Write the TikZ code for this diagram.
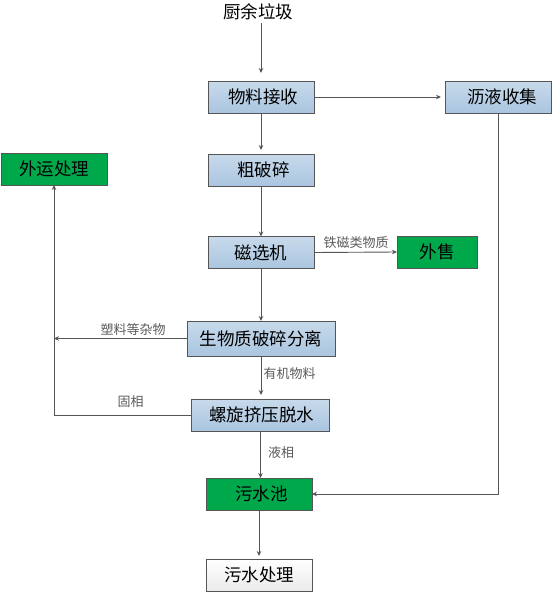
\documentclass[tikz,border=0pt]{standalone}
\usepackage{fontspec}
\setmainfont{Noto Sans CJK SC}
\usetikzlibrary{arrows.meta}
\definecolor{boxblueA}{RGB}{200,218,235}
\definecolor{boxblueB}{RGB}{170,197,224}
\definecolor{boxgreen}{RGB}{0,168,76}
\definecolor{linegray}{RGB}{85,85,85}
\definecolor{labelgray}{RGB}{90,90,90}
\tikzset{
  every node/.style={inner sep=0pt,outer sep=0pt},
  flowbox/.style={draw=linegray,line width=0.9pt,minimum width=106pt,minimum height=32pt,font=\fontsize{17.5}{17.5}\selectfont,text=black,anchor=center},
  bluebox/.style={flowbox,top color=boxblueA,bottom color=boxblueB},
  greenbox/.style={flowbox,fill=boxgreen},
  whitebox/.style={flowbox,top color=white,bottom color=white!92!black},
  conn/.style={draw=linegray,line width=0.9pt},
  thickconn/.style={draw=linegray,line width=1pt},
  arr/.style={conn,-{Stealth[length=5pt,width=4.5pt]}},
  thickarr/.style={thickconn,-{Stealth[length=5pt,width=4.5pt]}},
  lab/.style={font=\fontsize{13}{13}\selectfont,text=labelgray},
}
\begin{document}
\begin{tikzpicture}[x=1pt,y=-1pt]
\useasboundingbox (0,0) rectangle (554,594);
\node[font=\fontsize{17.5}{17.5}\selectfont] (src) at (258,12) {厨余垃圾};
\node[bluebox] (recv) at (261,97) {\hspace*{4pt}物料接收};
\node[bluebox] (leach) at (498,97) {\hspace*{8pt}沥液收集};
\node[bluebox] (crush) at (261,170) {\hspace*{5pt}粗破碎};
\node[greenbox] (out) at (54,169) {外运处理};
\node[bluebox] (mag) at (261,252.5) {磁选机};
\node[greenbox,minimum width=80pt] (sell) at (437,252) {外售};
\node[bluebox,minimum width=148pt,minimum height=35pt] (bio) at (261,338.5) {生物质破碎分离};
\node[bluebox,minimum width=138pt] (screw) at (260.5,415) {\hspace*{2pt}螺旋挤压脱水};
\node[greenbox] (pool) at (259,494) {\hspace*{5pt}污水池};
\node[whitebox] (treat) at (259,575) {污水处理};
\coordinate (srcb) at (261,23);
\coordinate (trunkbio) at (54,338.5);
\coordinate (trunkscrew) at (54,415);
\coordinate (leachturn) at (498,494);
\draw[arr,shorten >=8pt] (srcb) -- (recv.north);
\draw[arr,shorten >=4pt] (recv.east) -- (leach.west);
\draw[arr,shorten >=4pt] (recv.south) -- (crush.north);
\draw[arr] (crush.south) -- (mag.north);
\draw[arr] (mag.east) -- (sell.west);
\draw[arr] (mag.south) -- (bio.north);
\draw[arr] (bio.west) -- (trunkbio);
\draw[arr,shorten >=4pt] (bio.south) -- (screw.north -| bio.south);
\draw[thickarr] (screw.west) -- (trunkscrew) -- (out.south);
\draw[arr] (screw.south) -- (pool.north -| screw.south);
\draw[thickarr] (leach.south) -- (leachturn) -- (pool.east);
\draw[arr,shorten >=3pt] (pool.south) -- (treat.north);
\node[lab] (l1) at (356,242.5) {铁磁类物质};
\node[lab] (l2) at (133,330) {塑料等杂物};
\node[lab] (l3) at (289.5,374) {有机物料};
\node[lab] (l4) at (130.5,402) {固相};
\node[lab] (l5) at (281,453) {液相};
\end{tikzpicture}
\end{document}
